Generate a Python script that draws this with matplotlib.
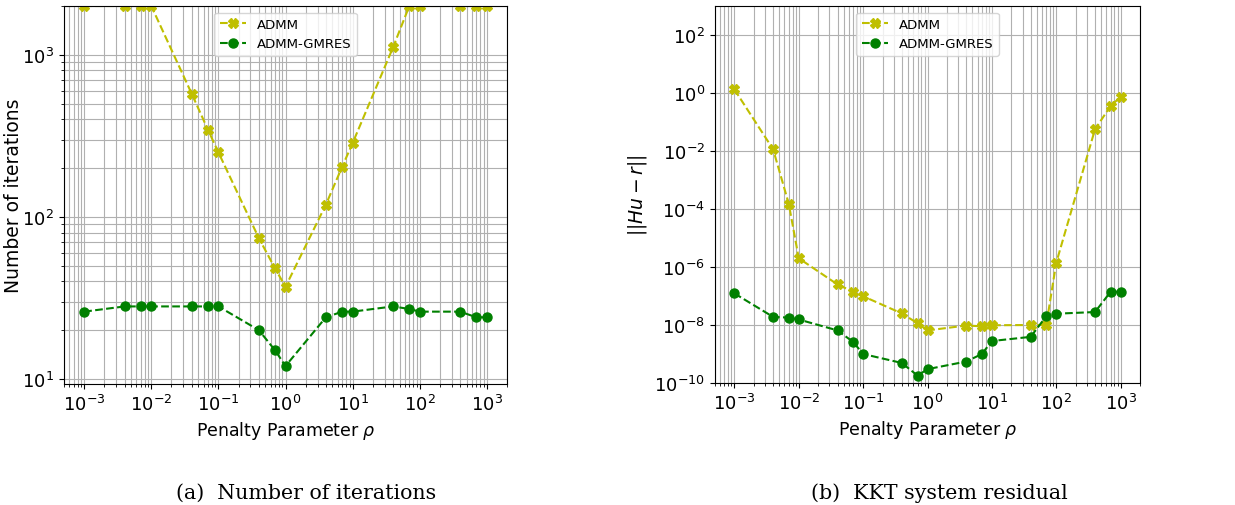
import numpy as np
import matplotlib
matplotlib.use('Agg')
import matplotlib.pyplot as plt
from matplotlib.ticker import NullLocator

# dati
rho = [1e-3, 4e-3, 7e-3, 1e-2, 4e-2, 7e-2, 1e-1, 4e-1, 7e-1, 1,
       4, 7, 10, 40, 70, 100, 400, 700, 1000]

iters_admm = [2000, 2000, 2000, 2000, 575, 344, 250, 74, 48, 37,
              119, 204, 285, 1110, 2000, 2000, 2000, 2000, 2000]
iters_gmres = [26, 28, 28, 28, 28, 28, 28, 20, 15, 12,
               24, 26, 26, 28, 27, 26, 26, 24, 24]

res_admm = [1.33, 1.14e-2, 1.5e-4, 2e-6, 2.5e-7, 1.4e-7, 9.8e-8, 2.5e-8, 1.15e-8, 6.5e-9,
            9.6e-9, 9e-9, 9.8e-9, 1e-8, 1e-8, 1.4e-6, 5.6e-2, 0.36, 0.73]
res_gmres = [1.23e-7, 1.9e-8, 1.8e-8, 1.55e-8, 6.5e-9, 2.6e-9, 1e-9, 4.9e-10, 1.8e-10, 3e-10,
             5.5e-10, 1e-9, 2.8e-9, 3.9e-9, 2e-8, 2.45e-8, 2.8e-8, 1.4e-7, 1.4e-7]

W, H = 1235, 506
fig = plt.figure(figsize=(W / 100, H / 100), dpi=100)


def px_axes(x0, y0, x1, y1):
    return fig.add_axes([x0 / W, 1 - y1 / H, (x1 - x0) / W, (y1 - y0) / H])


def style(ax):
    ax.set_xscale('log')
    ax.set_yscale('log')
    ax.grid(True, which='both', color='#b0b0b0', linewidth=0.8)
    ax.set_xlim(5e-4, 2e3)
    ax.set_xlabel(r'Penalty Parameter $\rho$', fontsize=12.5)
    ax.tick_params(labelsize=13)
    ax.legend(loc='upper center', fontsize=9.5)


ax1 = px_axes(64, 7, 507, 385)
ax1.plot(rho, iters_admm, 'y--', marker='X', markersize=6.5, linewidth=1.5, label='ADMM')
ax1.plot(rho, iters_gmres, 'g--', marker='o', markersize=6.5, linewidth=1.5, label='ADMM-GMRES')
ax1.set_ylim(9.3, 2000)
style(ax1)
ax1.set_ylabel('Number of iterations', fontsize=13.5)
ax1.yaxis.set_label_coords((23 - 64) / 443, 0.5)

ax2 = px_axes(715, 7, 1140, 384)
ax2.plot(rho, res_admm, 'y--', marker='X', markersize=6.5, linewidth=1.5, label='ADMM')
ax2.plot(rho, res_gmres, 'g--', marker='o', markersize=6.5, linewidth=1.5, label='ADMM-GMRES')
ax2.set_ylim(1e-10, 1e3)
style(ax2)
ax2.set_yticks([1e-10, 1e-8, 1e-6, 1e-4, 1e-2, 1e0, 1e2])
ax2.yaxis.set_minor_locator(NullLocator())
ax2.set_ylabel(r'$||Hu - r||$', fontsize=13.5)

fig.text(306 / W, 1 - 493 / H, '(a)  Number of iterations', ha='center', va='center',
         fontsize=14.8, family='DejaVu Serif')
fig.text(939 / W, 1 - 493 / H, '(b)  KKT system residual', ha='center', va='center',
         fontsize=14.8, family='DejaVu Serif')

fig.savefig('out.png', dpi=100)
